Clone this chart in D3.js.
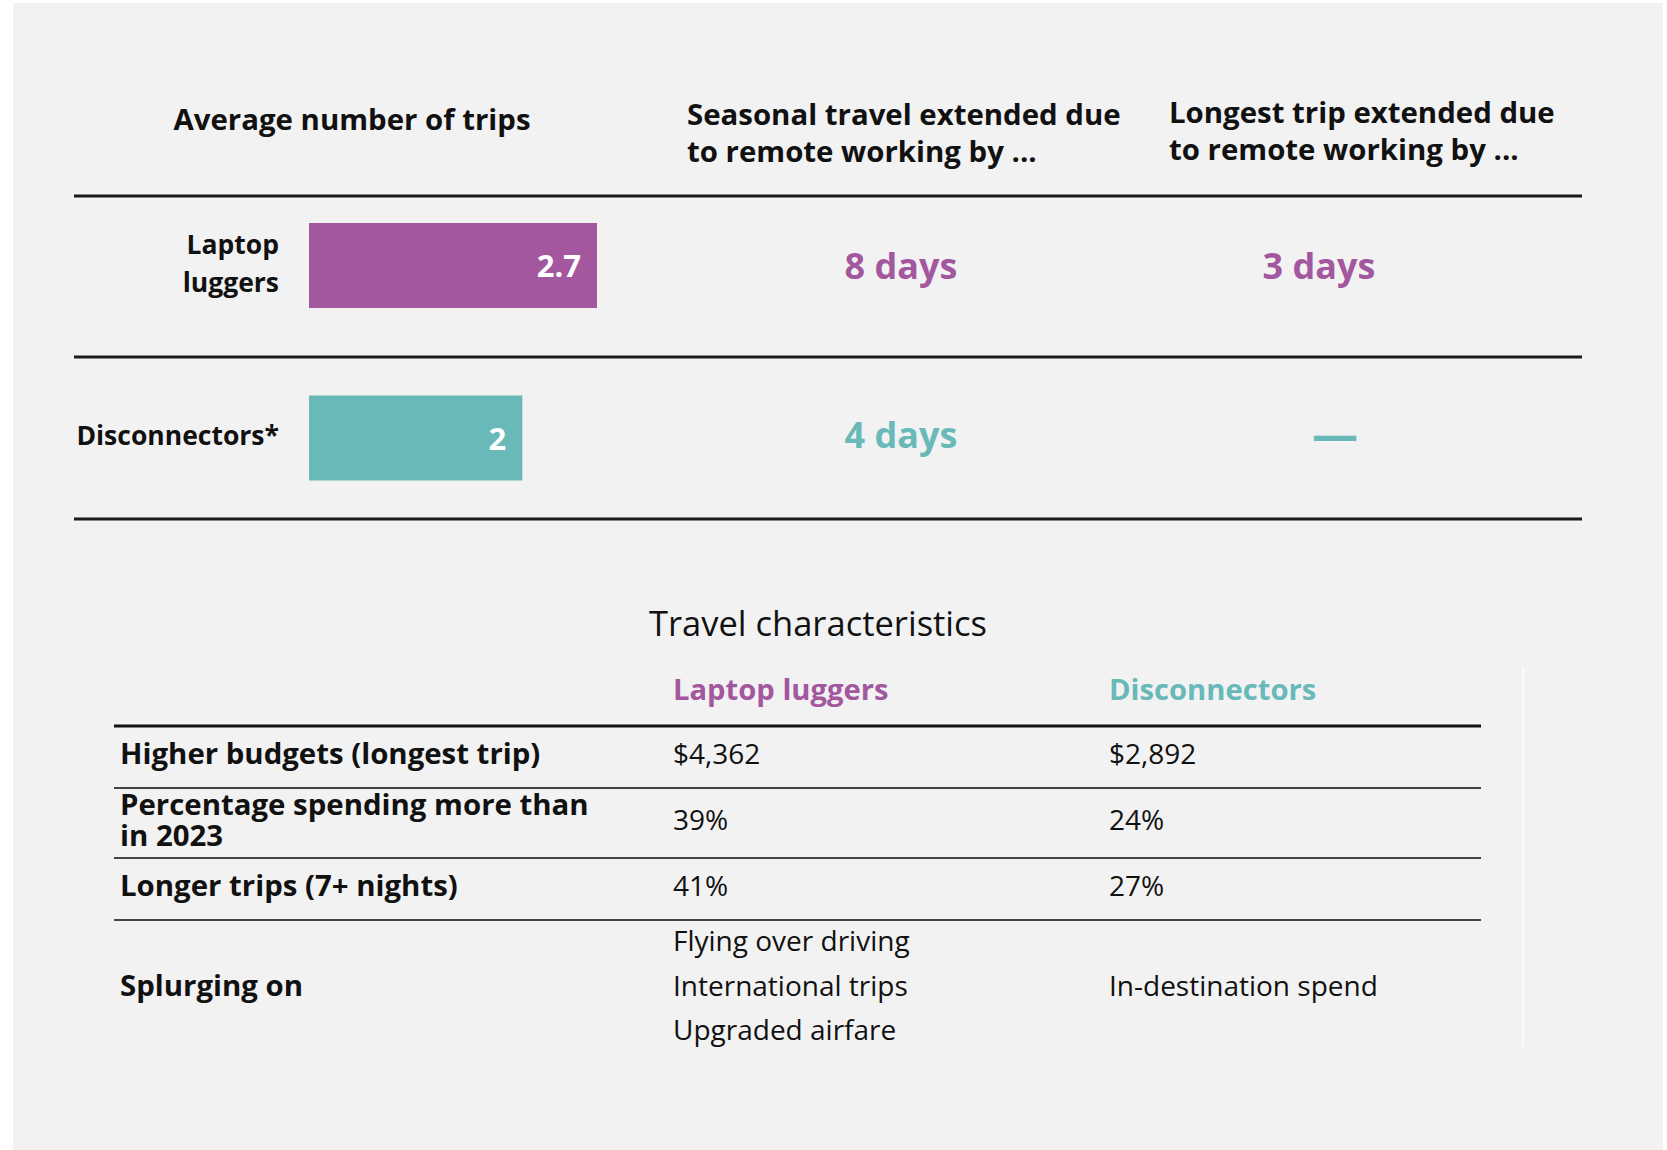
<!DOCTYPE html>
<html>
<head>
<meta charset="utf-8">
<script src="https://cdn.jsdelivr.net/npm/d3@7"></script>
<style>
  body { margin: 0; background: #fff; }
  text { font-family: "Open Sans", "Noto Sans", sans-serif; }
</style>
</head>
<body>
<script>
// top block
const segments = ["Laptop luggers", "Disconnectors*"]
const segmentLabels = [["Laptop", "luggers"], ["Disconnectors*"]]
const avgTrips = [2.7, 2]
const seasonalExtension = ["8 days", "4 days"]
const longestExtension = ["3 days", "—"]
const topHeaders = [
  ["Average number of trips"],
  ["Seasonal travel extended due", "to remote working by ..."],
  ["Longest trip extended due", "to remote working by ..."]
]

// travel characteristics table
const tableTitle = "Travel characteristics"
const tableColumns = ["Laptop luggers", "Disconnectors"]
const characteristics = [
  ["Higher budgets (longest trip)"],
  ["Percentage spending more than", "in 2023"],
  ["Longer trips (7+ nights)"],
  ["Splurging on"]
]
const laptopValues = [["$4,362"], ["39%"], ["41%"], ["Flying over driving", "International trips", "Upgraded airfare"]]
const disconnectorValues = [["$2,892"], ["24%"], ["27%"], ["In-destination spend"]]

const segColors = ["#a3579e", "#69b9b8"]

const width = 1667, height = 1150

const svg = d3.select("body").append("svg")
  .attr("width", width)
  .attr("height", height)

svg.append("rect")
  .attr("x", 13).attr("y", 3)
  .attr("width", 1650).attr("height", height)
  .attr("fill", "#f2f2f2")

// ---- top block ----
const x = d3.scaleLinear().domain([0, 2.7]).range([0, 288])
const y = d3.scalePoint().domain(segments).range([265.5, 438])
const barX = 309, barH = 85
const colX = [352, 687, 1169]

const hdr = svg.append("g")
hdr.append("text")
  .attr("x", colX[0]).attr("y", 120).attr("dy", "0.35em")
  .attr("text-anchor", "middle")
  .attr("font-size", 29.4).attr("font-weight", 700).attr("fill", "#111")
  .text(topHeaders[0][0])
topHeaders.slice(1).forEach((lines, i) => {
  hdr.append("g").selectAll("text")
    .data(lines)
    .enter().append("text")
    .attr("x", colX[i + 1])
    .attr("y", (d, j) => (i == 0 ? 115 : 113) + j * 37)
    .attr("dy", "0.35em")
    .attr("font-size", 29.4).attr("font-weight", 700).attr("fill", "#111")
    .text(d => d)
})

svg.append("g").selectAll("line")
  .data([196, 357, 519])
  .enter().append("line")
  .attr("x1", 74).attr("x2", 1582)
  .attr("y1", d => d).attr("y2", d => d)
  .attr("stroke", "#1a1a1a").attr("stroke-width", 3)

const rows = svg.append("g").selectAll("g")
  .data(segments)
  .enter().append("g")

rows.append("rect")
  .attr("x", barX)
  .attr("y", d => y(d) - barH / 2)
  .attr("width", (d, i) => x(avgTrips[i]))
  .attr("height", barH)
  .attr("fill", (d, i) => segColors[i])

rows.append("text")
  .attr("x", (d, i) => barX + x(avgTrips[i]) - 16)
  .attr("y", d => y(d) + 1)
  .attr("dy", "0.35em")
  .attr("text-anchor", "end")
  .attr("font-size", 31).attr("font-weight", 700).attr("fill", "#fff")
  .text((d, i) => avgTrips[i])

rows.each(function (d, i) {
  const lines = segmentLabels[i]
  d3.select(this).selectAll("text.lab")
    .data(lines)
    .enter().append("text")
    .attr("class", "lab")
    .attr("x", 279)
    .attr("y", (l, j) => y(d) + (j - (lines.length - 1) / 2) * 38 - 2)
    .attr("dy", "0.35em")
    .attr("text-anchor", "end")
    .attr("font-size", 26.5).attr("font-weight", 700).attr("fill", "#111")
    .text(l => l)
})

// second row's figures sit a touch above the bar centre
const nudge = i => i == 0 ? 1 : -3

rows.append("text")
  .attr("x", 901)
  .attr("y", (d, i) => y(d) + nudge(i))
  .attr("dy", "0.35em")
  .attr("text-anchor", "middle")
  .attr("font-size", 36).attr("font-weight", 700)
  .attr("fill", (d, i) => segColors[i])
  .text((d, i) => seasonalExtension[i])

rows.append("text")
  .attr("x", (d, i) => longestExtension[i] == "—" ? 1335 : 1319)
  .attr("y", (d, i) => y(d) + nudge(i))
  .attr("dy", "0.35em")
  .attr("text-anchor", "middle")
  .attr("font-size", (d, i) => longestExtension[i] == "—" ? 46 : 36)
  .attr("font-weight", 700)
  .attr("fill", (d, i) => segColors[i])
  .text((d, i) => longestExtension[i])

// ---- travel characteristics table ----
const tbl = svg.append("g")
tbl.append("text")
  .attr("x", 818).attr("y", 624).attr("dy", "0.35em")
  .attr("text-anchor", "middle")
  .attr("font-size", 34.5).attr("fill", "#111")
  .text(tableTitle)

const colStart = [120, 673, 1109]
tbl.selectAll("text.colhead")
  .data(tableColumns)
  .enter().append("text")
  .attr("class", "colhead")
  .attr("x", (d, i) => colStart[i + 1])
  .attr("y", 690).attr("dy", "0.35em")
  .attr("font-size", 29.2).attr("font-weight", 700)
  .attr("fill", (d, i) => segColors[i])
  .text(d => d)

// row boundaries (layout)
const rowEdges = [726, 788, 858, 920, 1052]
tbl.selectAll("line.rule")
  .data(rowEdges.slice(0, 4))
  .enter().append("line")
  .attr("class", "rule")
  .attr("x1", 114).attr("x2", 1481)
  .attr("y1", d => d).attr("y2", d => d)
  .attr("stroke", (d, i) => i == 0 ? "#111" : "#444")
  .attr("stroke-width", (d, i) => i == 0 ? 3 : 2)

tbl.append("line")
  .attr("x1", 1523).attr("x2", 1523)
  .attr("y1", 668).attr("y2", 1047)
  .attr("stroke", "#fbfbfb").attr("stroke-width", 2)

const rowMid = i => (rowEdges[i] + rowEdges[i + 1]) / 2 - 3

function cellLines(g, lines, cx, cy, lh, size, weight) {
  g.selectAll(null)
    .data(lines)
    .enter().append("text")
    .attr("x", cx)
    .attr("y", (d, j) => cy + (j - (lines.length - 1) / 2) * lh)
    .attr("dy", "0.35em")
    .attr("font-size", size).attr("font-weight", weight).attr("fill", "#111")
    .text(d => d)
}

characteristics.forEach((lines, i) => {
  const cy = i == 3 ? 986 : rowMid(i)
  const g = tbl.append("g")
  cellLines(g, lines, colStart[0], cy, 30.5, 29.4, 700)
  cellLines(g, laptopValues[i], colStart[1], cy, 44.5, 28, 400)
  cellLines(g, disconnectorValues[i], colStart[2], cy, 44.5, 28, 400)
})
</script>
</body>
</html>
